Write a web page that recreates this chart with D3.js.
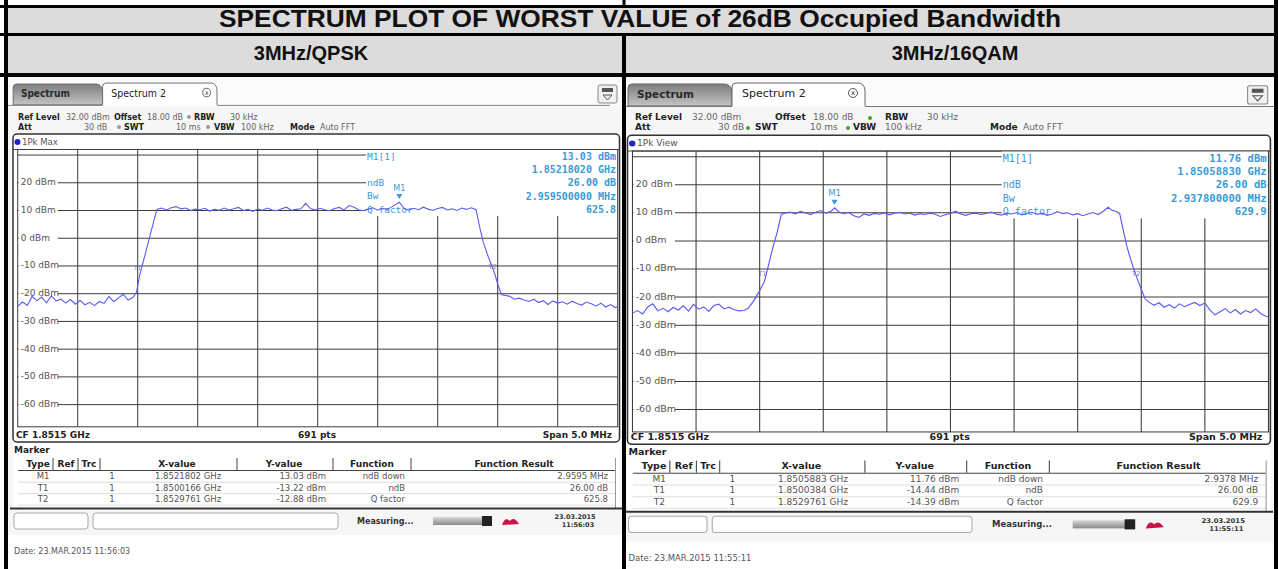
<!DOCTYPE html>
<html lang="en">
<head>
<meta charset="utf-8">
<script src="https://d3js.org/d3.v7.min.js"></script>
<title>26dB Occupied Bandwidth</title>
<style>
  body { margin: 0; background: #fff; }
  svg { display: block; }
  .scr { font-family: "DejaVu Sans", sans-serif; }
</style>
</head>
<body>
<svg id="chart" width="1278" height="569"></svg>
<script>
// ---- data ----
const chartTitle = "SPECTRUM PLOT OF WORST VALUE of 26dB Occupied Bandwidth";
const panelTitles = ["3MHz/QPSK", "3MHz/16QAM"];
const traceLabels = ["1Pk Max", "1Pk View"];
const levelTicks = [20, 10, 0, -10, -20, -30, -40, -50, -60];
const gridLevels = [30, 20, 10, 0, -10, -20, -30, -40, -50, -60];
const freqGrid = [0.5, 1, 1.5, 2, 2.5, 3, 3.5, 4, 4.5];   // MHz from start of span

// [MHz offset from 1849.0 MHz, dBm]
const qpskTrace = [
  [0.00,-24.6],[0.04,-23.0],[0.08,-24.2],[0.12,-21.0],[0.16,-22.5],[0.20,-21.2],[0.24,-23.3],
  [0.28,-20.8],[0.32,-22.6],[0.36,-22.0],[0.40,-23.4],[0.44,-22.1],[0.48,-23.8],[0.52,-22.4],
  [0.56,-24.0],[0.60,-23.1],[0.64,-24.3],[0.68,-22.8],[0.72,-23.5],[0.76,-21.0],[0.80,-22.9],
  [0.84,-21.5],[0.88,-20.2],[0.92,-22.3],[0.96,-21.4],[0.99,-19.5],[1.017,-13.2],[1.04,-9.5],
  [1.07,-4.5],[1.10,0.5],[1.13,5.5],[1.16,10.4],[1.20,10.9],[1.24,10.2],[1.28,11.0],[1.32,11.4],
  [1.36,10.6],[1.40,10.9],[1.44,10.0],[1.48,10.5],[1.52,10.3],[1.56,10.8],[1.60,9.8],[1.64,10.4],
  [1.68,10.1],[1.72,10.9],[1.76,10.2],[1.80,10.6],[1.84,11.1],[1.88,10.0],[1.92,10.4],[1.96,9.7],
  [2.00,10.5],[2.04,10.1],[2.08,10.9],[2.12,10.2],[2.16,9.9],[2.20,10.6],[2.24,11.2],[2.28,10.1],
  [2.32,10.4],[2.36,10.6],[2.40,12.6],[2.44,10.7],[2.48,10.2],[2.52,10.8],[2.56,10.3],[2.60,9.9],
  [2.64,10.7],[2.68,11.1],[2.72,10.2],[2.76,11.8],[2.80,11.3],[2.84,10.3],[2.88,9.9],[2.92,10.5],
  [2.96,11.0],[3.00,10.1],[3.04,10.7],[3.08,10.4],[3.12,11.4],[3.18,13.0],[3.22,10.8],[3.26,10.1],
  [3.30,10.8],[3.34,10.3],[3.38,11.2],[3.42,10.5],[3.46,10.0],[3.50,10.7],[3.54,11.1],[3.58,10.2],
  [3.62,10.6],[3.66,10.0],[3.70,10.9],[3.74,10.4],[3.78,11.0],[3.82,10.3],[3.85,4.0],[3.88,-1.5],
  [3.92,-6.5],[3.976,-12.9],[4.00,-16.5],[4.03,-20.3],[4.06,-20.6],[4.10,-20.9],[4.14,-22.0],
  [4.18,-21.6],[4.22,-22.3],[4.26,-22.8],[4.30,-22.0],[4.34,-23.2],[4.38,-22.5],[4.42,-23.9],
  [4.46,-22.6],[4.50,-23.4],[4.54,-22.9],[4.58,-23.8],[4.62,-22.7],[4.66,-23.5],[4.70,-24.1],
  [4.74,-23.0],[4.78,-23.6],[4.82,-24.5],[4.86,-23.4],[4.90,-24.8],[4.94,-23.9],[4.98,-25.0],[5.00,-24.6]
];

const qam16Trace = [
  [0.00,-25.7],[0.04,-24.8],[0.08,-26.0],[0.12,-23.5],[0.16,-22.4],[0.20,-24.9],[0.24,-24.0],
  [0.28,-25.2],[0.32,-23.7],[0.36,-24.6],[0.40,-23.1],[0.44,-25.0],[0.48,-22.6],[0.52,-24.3],
  [0.56,-23.5],[0.60,-25.1],[0.64,-23.0],[0.68,-22.5],[0.72,-24.2],[0.76,-23.6],[0.80,-24.5],
  [0.84,-24.9],[0.88,-24.7],[0.91,-24.0],[0.95,-21.5],[0.99,-18.5],[1.038,-14.4],[1.07,-8.5],
  [1.10,-3.0],[1.14,3.5],[1.17,9.5],[1.20,9.9],[1.24,10.3],[1.28,9.6],[1.32,10.5],[1.36,10.0],
  [1.40,9.4],[1.44,10.2],[1.48,10.8],[1.52,9.9],[1.56,10.6],[1.59,11.8],[1.62,10.4],[1.66,9.7],
  [1.70,10.1],[1.74,9.0],[1.78,8.4],[1.82,9.6],[1.86,9.1],[1.90,9.8],[1.94,9.5],[1.98,10.0],
  [2.02,9.3],[2.06,9.9],[2.10,10.2],[2.14,9.6],[2.18,9.9],[2.22,9.2],[2.26,9.7],[2.30,9.4],
  [2.34,9.9],[2.38,9.5],[2.42,8.7],[2.46,9.3],[2.50,9.8],[2.54,10.6],[2.58,9.6],[2.62,9.1],
  [2.66,9.7],[2.70,9.9],[2.74,9.4],[2.78,9.8],[2.82,10.3],[2.86,9.5],[2.90,9.2],[2.94,9.9],
  [2.98,9.6],[3.02,10.1],[3.06,9.3],[3.10,9.8],[3.14,10.2],[3.18,9.5],[3.22,9.9],[3.26,9.1],
  [3.30,9.6],[3.34,10.4],[3.38,9.8],[3.42,10.0],[3.46,9.3],[3.50,9.7],[3.54,9.0],[3.58,9.6],
  [3.62,10.1],[3.66,9.4],[3.70,10.5],[3.74,12.0],[3.77,10.9],[3.80,10.6],[3.83,9.8],[3.86,3.5],
  [3.89,-2.5],[3.93,-8.5],[3.976,-14.4],[4.00,-17.2],[4.03,-20.6],[4.06,-21.8],[4.10,-22.9],
  [4.14,-22.0],[4.18,-23.6],[4.22,-22.7],[4.26,-23.9],[4.30,-22.4],[4.34,-23.4],[4.38,-22.6],
  [4.42,-21.9],[4.46,-23.0],[4.50,-22.1],[4.54,-24.6],[4.58,-26.3],[4.62,-25.2],[4.66,-24.1],
  [4.70,-25.6],[4.74,-24.4],[4.78,-26.0],[4.82,-24.8],[4.86,-25.5],[4.90,-24.2],[4.94,-25.9],
  [4.98,-26.8],[5.00,-27.0]
];

// markers: [name, MHz offset, dBm]
const qpskMarkers = [["M1", 3.1802, 13.03], ["T1", 1.0166, -13.22], ["T2", 3.9761, -12.88]];
const qam16Markers = [["M1", 1.5883, 11.76], ["T1", 1.0384, -14.44], ["T2", 3.9761, -14.39]];

const infoLabels = ["M1[1]", "", "ndB", "Bw", "Q factor"];
const qpskInfo = ["13.03 dBm", "1.85218020 GHz", "26.00 dB", "2.959500000 MHz", "625.8"];
const qam16Info = ["11.76 dBm", "1.85058830 GHz", "26.00 dB", "2.937800000 MHz", "629.9"];

const tableHeader = ["Type", "Ref", "Trc", "X-value", "Y-value", "Function", "Function Result"];
const markerTypes = ["M1", "T1", "T2"];
const markerTrc = ["1", "1", "1"];
const markerFunctions = ["ndB down", "ndB", "Q factor"];
const qpskX = ["1.8521802 GHz", "1.8500166 GHz", "1.8529761 GHz"];
const qpskY = ["13.03 dBm", "-13.22 dBm", "-12.88 dBm"];
const qpskResult = ["2.9595 MHz", "26.00 dB", "625.8"];
const qam16X = ["1.8505883 GHz", "1.8500384 GHz", "1.8529761 GHz"];
const qam16Y = ["11.76 dBm", "-14.44 dBm", "-14.39 dBm"];
const qam16Result = ["2.9378 MHz", "26.00 dB", "629.9"];

const statusTimes = ["11:56:03", "11:55:11"];

// ---- layout ----
const svg = d3.select('#chart');
const blue = '#5c5cee';
const cyan = '#3a9ad8';

// one set of scales, panel groups are placed with a transform
const xScale = d3.scaleLinear().domain([0, 5]).range([17.7, 617.7]);
const yScale = d3.scaleLinear().domain([-68, 32]).range([426.8, 149.5]);

const defs = svg.append('defs');
const tabGrad = defs.append('linearGradient').attr('id', 'tabGrad').attr('x1', 0).attr('y1', 0).attr('x2', 0).attr('y2', 1);
tabGrad.append('stop').attr('offset', '0%').attr('stop-color', '#7d7d7d');
tabGrad.append('stop').attr('offset', '100%').attr('stop-color', '#c4c4c4');
const barGrad = defs.append('linearGradient').attr('id', 'barGrad').attr('x1', 0).attr('y1', 0).attr('x2', 0).attr('y2', 1);
barGrad.append('stop').attr('offset', '0%').attr('stop-color', '#d8d8d8');
barGrad.append('stop').attr('offset', '100%').attr('stop-color', '#8a8a8a');

const panels = [
  { clip: [8, 77, 614, 492], tf: null, lowerDy: 0, tabTf: 'translate(8,84) scale(0.86,0.95) translate(0,-84)',
    trace: qpskTrace, markers: qpskMarkers, info: qpskInfo,
    xs: qpskX, ys: qpskY, res: qpskResult, label: traceLabels[0], time: statusTimes[0],
    head: { size: 8, l1: [[18,'Ref Level',1],[66,'32.00 dBm',0],[114,'Offset',1],[147,'18.00 dB',0],[194,'RBW',1],[230,'30 kHz',0]],
            l2: [[18,'Att',1],[84,'30 dB',0],[124,'SWT',1],[176,'10 ms',0],[214,'VBW',1],[241,'100 kHz',0],[290,'Mode',1],[320,'Auto FFT',0]],
            dots: [[189,117],[119,127],[208,127]] } },
  { clip: [626, 77, 649, 492], tf: 'translate(613.7,-0.4) scale(1.06,1.013)', lowerDy: -3,
    tabTf: 'translate(622,0)',
    trace: qam16Trace, markers: qam16Markers,
    info: qam16Info, xs: qam16X, ys: qam16Y, res: qam16Result, label: traceLabels[1], time: statusTimes[1],
    head: { size: 9, l1: [[635,'Ref Level',1],[692,'32.00 dBm',0],[775,'Offset',1],[813,'18.00 dB',0],[885,'RBW',1],[927,'30 kHz',0]],
            l2: [[635,'Att',1],[718,'30 dB',0],[755,'SWT',1],[810,'10 ms',0],[853,'VBW',1],[885,'100 kHz',0],[990,'Mode',1],[1023,'Auto FFT',0]],
            dots: [[870,118],[748,128],[848,128]] } }
];

function txt(g, x, y, s, o = {}) {
  return g.append('text').attr('x', x).attr('y', y).attr('dominant-baseline', 'middle')
    .attr('font-size', o.size || 9).attr('font-weight', o.bold ? 'bold' : 'normal')
    .attr('text-anchor', o.anchor || 'start').attr('fill', o.fill || '#333')
    .attr('font-family', o.family || null).text(s);
}

panels.forEach((p, i) => {
  const cid = 'clip' + i;
  defs.append('clipPath').attr('id', cid).append('rect')
    .attr('x', p.clip[0]).attr('y', p.clip[1]).attr('width', p.clip[2]).attr('height', p.clip[3]);
  const outer = svg.append('g').attr('class', 'scr').attr('clip-path', `url(#${cid})`);
  outer.append('rect').attr('x', p.clip[0]).attr('y', p.clip[1]).attr('width', p.clip[2]).attr('height', p.clip[3]).attr('fill', '#f6f6f6');

  // tab bar, drawn relative to the panel's left edge
  outer.append('rect').attr('x', p.clip[0]).attr('y', 80).attr('width', p.clip[2]).attr('height', 27).attr('fill', '#fbfbfb');
  const tb = outer.append('g').attr('transform', p.tabTf);
  tb.append('path').attr('d', 'M6,106 L6,88 Q6,84 10,84 L102,84 Q108,84 110,90 L110,106 Z')
    .attr('fill', 'url(#tabGrad)').attr('stroke', '#666');
  txt(tb, 15, 95, 'Spectrum', { bold: true, size: 10.5, fill: '#2a2a2a' });
  tb.append('path').attr('d', 'M110,106 L110,87 Q110,83 114,83 L236,83 Q242,83 243,90 L243,106')
    .attr('fill', '#fff').attr('stroke', '#666');
  txt(tb, 120, 94, 'Spectrum 2', { size: 11, fill: '#222' });
  tb.append('circle').attr('cx', 231).attr('cy', 93).attr('r', 4.5).attr('fill', '#fff').attr('stroke', '#555');
  txt(tb, 231, 93.5, 'x', { size: 7, anchor: 'middle', fill: '#333' });
  tb.append('line').attr('x1', 0).attr('x2', 110).attr('y1', 106.5).attr('y2', 106.5).attr('stroke', '#777');
  tb.append('line').attr('x1', 243).attr('x2', 700).attr('y1', 106.5).attr('y2', 106.5).attr('stroke', '#777');

  const g = outer.append('g');
  if (p.tf) g.attr('transform', p.tf);

  g.append('rect').attr('x', 598).attr('y', 85).attr('width', 19).attr('height', 18).attr('rx', 2)
    .attr('fill', '#f0f0f0').attr('stroke', '#888');
  g.append('rect').attr('x', 602).attr('y', 88).attr('width', 11).attr('height', 4).attr('fill', '#555');
  g.append('path').attr('d', 'M603,95 L612,95 L607.5,100 Z').attr('fill', 'none').attr('stroke', '#555');

  // plot frame
  g.append('rect').attr('x', 13).attr('y', 134).attr('width', 606.5).attr('height', 308 + p.lowerDy).attr('rx', 4)
    .attr('fill', '#fff').attr('stroke', '#333').attr('stroke-width', 1.5);
  g.append('circle').attr('cx', 17.5).attr('cy', 142).attr('r', 3).attr('fill', '#2222cc');
  txt(g, 22, 142.5, p.label, { size: 8.5, fill: '#555' });
  g.append('line').attr('x1', 13).attr('x2', 619.5).attr('y1', yScale(32)).attr('y2', yScale(32)).attr('stroke', '#444');

  // grid
  g.append('g').selectAll('line').data(gridLevels).join('line')
    .attr('x1', xScale(0)).attr('x2', xScale(5)).attr('y1', d => yScale(d)).attr('y2', d => yScale(d))
    .attr('stroke', '#3c3c3c').attr('stroke-width', 1);
  g.append('g').selectAll('line').data(freqGrid).join('line')
    .attr('x1', d => xScale(d)).attr('x2', d => xScale(d)).attr('y1', yScale(32)).attr('y2', yScale(-68))
    .attr('stroke', '#3c3c3c').attr('stroke-width', 1);
  g.append('rect').attr('x', xScale(0)).attr('y', yScale(32)).attr('width', xScale(5) - xScale(0))
    .attr('height', yScale(-68) - yScale(32)).attr('fill', 'none').attr('stroke', '#3c3c3c');

  // level labels
  const lab = g.append('g').selectAll('g').data(levelTicks).join('g');
  lab.append('rect').attr('x', xScale(0) + 1).attr('y', d => yScale(d) - 5).attr('width', 39).attr('height', 10).attr('fill', '#fff');
  lab.append('text').attr('x', xScale(0) + 3).attr('y', d => yScale(d)).attr('dominant-baseline', 'middle')
    .attr('font-size', 9).attr('fill', '#555').text(d => d + ' dBm');

  // marker info box
  g.append('rect').attr('x', 366).attr('y', yScale(32) + 0.5).attr('width', 251).attr('height', 66).attr('fill', '#fff');
  const infoY = [157, 170, 183, 196.5, 210];
  infoLabels.forEach((s, k) => {
    if (s) txt(g, 367, infoY[k], s, { size: 9.5, fill: cyan, family: 'DejaVu Sans Mono' });
    txt(g, 616, infoY[k], p.info[k], { size: 10, bold: true, anchor: 'end', fill: cyan, family: 'DejaVu Sans Mono' });
  });

  // trace
  const line = d3.line().x(d => xScale(d[0])).y(d => yScale(d[1]));
  g.append('path').datum(p.trace).attr('d', line).attr('fill', 'none').attr('stroke', blue).attr('stroke-width', 1.1);

  // markers
  p.markers.forEach(m => {
    const mx = xScale(m[1]), my = yScale(m[2]);
    if (m[0] === 'M1') {
      g.append('path').attr('d', `M${mx - 3},${my - 8} L${mx + 3},${my - 8} L${mx},${my - 3} Z`).attr('fill', cyan);
      txt(g, mx, my - 14, 'M1', { size: 8, anchor: 'middle', fill: cyan });
    } else {
      txt(g, mx - 2, my - 7, m[0], { size: 6.5, anchor: 'middle', fill: '#7a7ad0' });
    }
  });

  // lower part: footer of plot, marker table, status bar
  const lo = g.append('g').attr('transform', `translate(0,${p.lowerDy})`);
  txt(lo, 16, 435.5, 'CF 1.8515 GHz', { bold: true, size: 9, fill: '#222' });
  txt(lo, 317, 435.5, '691 pts', { bold: true, size: 9, anchor: 'middle', fill: '#222' });
  txt(lo, 612, 435.5, 'Span 5.0 MHz', { bold: true, size: 9, anchor: 'end', fill: '#222' });

  lo.append('rect').attr('x', 13).attr('y', 443).attr('width', 606.5).attr('height', 65).attr('fill', '#fff');
  txt(lo, 14, 450, 'Marker', { bold: true, size: 9, fill: '#222' });
  const colCenter = [38, 66, 89, 177, 284, 372, 514];
  tableHeader.forEach((h, k) => txt(lo, colCenter[k], 464, h, { bold: true, size: 9, anchor: 'middle', fill: '#222' }));
  [53, 78, 100, 237, 333, 411].forEach(x => lo.append('line').attr('x1', x).attr('x2', x).attr('y1', 458).attr('y2', 470).attr('stroke', '#444'));
  lo.append('line').attr('x1', 18).attr('x2', 615).attr('y1', 470.5).attr('y2', 470.5).attr('stroke', '#444');
  const rowY = [476.5, 488, 499.5];
  rowY.forEach((y, r) => {
    lo.append('line').attr('x1', 18).attr('x2', 615).attr('y1', y + 5.7).attr('y2', y + 5.7).attr('stroke', '#ddd');
    txt(lo, 43, y, markerTypes[r], { size: 8.5, anchor: 'middle', fill: '#555' });
    txt(lo, 112, y, markerTrc[r], { size: 8.5, anchor: 'middle', fill: '#555' });
    txt(lo, 155, y, p.xs[r], { size: 8.5, fill: '#555' });
    txt(lo, 326, y, p.ys[r], { size: 8.5, anchor: 'end', fill: '#555' });
    txt(lo, 405, y, markerFunctions[r], { size: 8.5, anchor: 'end', fill: '#555' });
    txt(lo, 608, y, p.res[r], { size: 8.5, anchor: 'end', fill: '#555' });
  });
  lo.append('line').attr('x1', 615.5).attr('x2', 615.5).attr('y1', 458).attr('y2', 508).attr('stroke', '#999');
  lo.append('line').attr('x1', 10).attr('x2', 622).attr('y1', 508.5).attr('y2', 508.5).attr('stroke', '#333').attr('stroke-width', 2);

  lo.append('rect').attr('x', 14).attr('y', 513).attr('width', 74).attr('height', 16).attr('rx', 3).attr('fill', '#fff').attr('stroke', '#aaa');
  lo.append('rect').attr('x', 93).attr('y', 513).attr('width', 245).attr('height', 16).attr('rx', 3).attr('fill', '#fff').attr('stroke', '#aaa');
  txt(lo, 357, 521, 'Measuring...', { bold: true, size: 8, fill: '#333' });
  lo.append('rect').attr('x', 433).attr('y', 517).attr('width', 58).attr('height', 8).attr('fill', 'url(#barGrad)');
  lo.append('rect').attr('x', 482).attr('y', 516).attr('width', 10).attr('height', 10).attr('fill', '#222');
  lo.append('path').attr('d', 'M502,525 Q505,516 510,521 Q514,516 519,524 Z').attr('fill', '#cc1144');
  txt(lo, 575, 517.5, '23.03.2015', { bold: true, size: 6.5, anchor: 'middle', fill: '#333' });
  txt(lo, 578, 525.5, p.time, { bold: true, size: 6.5, anchor: 'middle', fill: '#333' });

  g.append('rect').attr('x', 8).attr('y', 535).attr('width', 614).attr('height', 40).attr('fill', '#fff');
  txt(g, 14, 551.5, 'Date: 23.MAR.2015  ' + p.time, { size: 8, fill: '#555' });

  // setting lines sit on top, not scaled
  const hd = outer.append('g');
  p.head.l1.forEach(t => txt(hd, t[0], 117.5, t[1], { size: p.head.size, bold: !!t[2], fill: t[2] ? '#222' : '#666' }));
  p.head.l2.forEach(t => txt(hd, t[0], 127.5, t[1], { size: p.head.size, bold: !!t[2], fill: t[2] ? '#222' : '#666' }));
  p.head.dots.forEach(d => hd.append('circle').attr('cx', d[0]).attr('cy', d[1]).attr('r', 2).attr('fill', i ? '#3aa63a' : '#9a9a9a'));
});

// ---- document table around the screenshots ----
svg.insert('rect', ':first-child').attr('width', 1278).attr('height', 569).attr('fill', '#fff');
svg.append('rect').attr('x', 6).attr('y', 7).attr('width', 1270).attr('height', 67).attr('fill', '#dcdcdc');
svg.append('text').attr('x', 640).attr('y', 21).attr('text-anchor', 'middle').attr('dominant-baseline', 'middle')
  .attr('font-family', 'Liberation Sans, Arial, sans-serif').attr('font-weight', 'bold').attr('font-size', 23)
  .attr('textLength', 842).attr('lengthAdjust', 'spacingAndGlyphs')
  .attr('fill', '#111').text(chartTitle);
[[311, panelTitles[0]], [955, panelTitles[1]]].forEach(t => {
  svg.append('text').attr('x', t[0]).attr('y', 55).attr('text-anchor', 'middle').attr('dominant-baseline', 'middle')
    .attr('font-family', 'Liberation Sans, Arial, sans-serif').attr('font-weight', 'bold').attr('font-size', 20)
    .attr('fill', '#111').text(t[1]);
});

const rules = svg.append('g').attr('stroke', '#000');
[[0, 6.5, 1278, 6.5, 3], [0, 34.5, 1278, 34.5, 3], [0, 75, 1278, 75, 4]].forEach(l =>
  rules.append('line').attr('x1', l[0]).attr('y1', l[1]).attr('x2', l[2]).attr('y2', l[3]).attr('stroke-width', l[4]));
[[6, 0, 6, 569, 4], [624, 0, 624, 7, 3], [624, 36, 624, 569, 4], [1276, 0, 1276, 569, 4]].forEach(l =>
  rules.append('line').attr('x1', l[0]).attr('y1', l[1]).attr('x2', l[2]).attr('y2', l[3]).attr('stroke-width', l[4]));
</script>
</body>
</html>
